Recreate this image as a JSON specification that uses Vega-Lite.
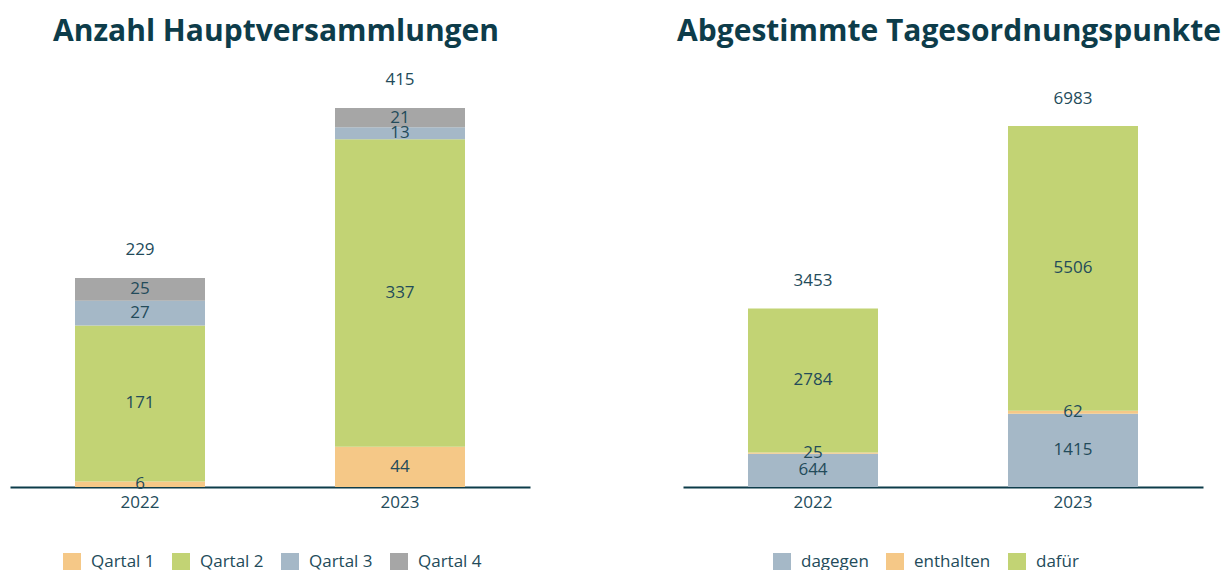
{
  "$schema": "https://vega.github.io/schema/vega-lite/v6.json",
  "background": "white",
  "padding": {"left": 10, "top": 17, "right": 0, "bottom": 0},
  "config": {
    "font": "Open Sans",
    "view": {"stroke": null},
    "concat": {"spacing": 147},
    "title": {"fontSize": 30, "fontWeight": "bold", "color": "#0d3c4a", "anchor": "middle", "offset": 14, "dx": 6, "font": "Open Sans"},
    "axis": {"domainColor": "#0d3c4a", "domainWidth": 2, "ticks": false, "labelFontSize": 17, "labelColor": "#234b5a", "labelPadding": 7, "title": null, "grid": false, "labelAngle": 0},
    "legend": {"orient": "none", "direction": "horizontal", "title": null, "symbolType": "square", "symbolSize": 324, "symbolStrokeWidth": 0, "labelFontSize": 17, "labelColor": "#234b5a", "labelOffset": 10, "columnPadding": 17}
  },
  "resolve": {"scale": {"color": "independent", "y": "independent"}, "legend": {"color": "independent"}},
  "datasets": {
    "hv": [
      {"year": "2022", "q": "Qartal 1", "v": 6, "k": 1},
      {"year": "2022", "q": "Qartal 2", "v": 171, "k": 2},
      {"year": "2022", "q": "Qartal 3", "v": 27, "k": 3},
      {"year": "2022", "q": "Qartal 4", "v": 25, "k": 4},
      {"year": "2023", "q": "Qartal 1", "v": 44, "k": 1},
      {"year": "2023", "q": "Qartal 2", "v": 337, "k": 2},
      {"year": "2023", "q": "Qartal 3", "v": 13, "k": 3},
      {"year": "2023", "q": "Qartal 4", "v": 21, "k": 4}
    ],
    "top": [
      {"year": "2022", "c": "dagegen", "v": 644, "k": 1},
      {"year": "2022", "c": "enthalten", "v": 25, "k": 2},
      {"year": "2022", "c": "dafür", "v": 2784, "k": 3},
      {"year": "2023", "c": "dagegen", "v": 1415, "k": 1},
      {"year": "2023", "c": "enthalten", "v": 62, "k": 2},
      {"year": "2023", "c": "dafür", "v": 5506, "k": 3}
    ]
  },
  "hconcat": [
    {
      "width": 520,
      "height": 426,
      "title": {"text": "Anzahl Hauptversammlungen"},
      "data": {"name": "hv"},
      "transform": [
        {"stack": "v", "groupby": ["year"], "sort": [{"field": "k", "order": "ascending"}], "as": ["v0", "v1"]},
        {"calculate": "(datum.v0 + datum.v1) / 2", "as": "mid"}
      ],
      "encoding": {
        "x": {"field": "year", "type": "nominal", "scale": {"paddingInner": 0.5, "paddingOuter": 0.25}, "axis": {}}
      },
      "layer": [
        {
          "mark": {"type": "bar"},
          "encoding": {
            "y": {"field": "v0", "type": "quantitative", "scale": {"domain": [0, 466.6], "nice": false, "zero": true}, "axis": null},
            "y2": {"field": "v1"},
            "color": {"field": "q", "type": "nominal", "scale": {"domain": ["Qartal 1", "Qartal 2", "Qartal 3", "Qartal 4"], "range": ["#f5c887", "#c2d374", "#a5b8c7", "#a6a6a6"]}, "legend": {"legendX": 53, "legendY": 492}}
          }
        },
        {
          "mark": {"type": "text", "fontSize": 17, "color": "#234b5a", "baseline": "middle"},
          "encoding": {
            "y": {"field": "mid", "type": "quantitative"},
            "text": {"field": "v", "type": "quantitative"}
          }
        },
        {
          "mark": {"type": "text", "fontSize": 17, "color": "#234b5a", "baseline": "middle", "dy": -28},
          "encoding": {
            "y": {"aggregate": "sum", "field": "v", "type": "quantitative"},
            "text": {"aggregate": "sum", "field": "v", "type": "quantitative"}
          }
        }
      ]
    },
    {
      "width": 520,
      "height": 426,
      "title": {"text": "Abgestimmte Tagesordnungspunkte"},
      "data": {"name": "top"},
      "transform": [
        {"stack": "v", "groupby": ["year"], "sort": [{"field": "k", "order": "ascending"}], "as": ["v0", "v1"]},
        {"calculate": "(datum.v0 + datum.v1) / 2", "as": "mid"}
      ],
      "encoding": {
        "x": {"field": "year", "type": "nominal", "scale": {"paddingInner": 0.5, "paddingOuter": 0.25}, "axis": {}}
      },
      "layer": [
        {
          "mark": {"type": "bar"},
          "encoding": {
            "y": {"field": "v0", "type": "quantitative", "scale": {"domain": [0, 8240], "nice": false, "zero": true}, "axis": null},
            "y2": {"field": "v1"},
            "color": {"field": "c", "type": "nominal", "scale": {"domain": ["dagegen", "enthalten", "dafür"], "range": ["#a5b8c7", "#f5c887", "#c2d374"]}, "legend": {"legendX": 90, "legendY": 492}}
          }
        },
        {
          "mark": {"type": "text", "fontSize": 17, "color": "#234b5a", "baseline": "middle"},
          "encoding": {
            "y": {"field": "mid", "type": "quantitative"},
            "text": {"field": "v", "type": "quantitative"}
          }
        },
        {
          "mark": {"type": "text", "fontSize": 17, "color": "#234b5a", "baseline": "middle", "dy": -27},
          "encoding": {
            "y": {"aggregate": "sum", "field": "v", "type": "quantitative"},
            "text": {"aggregate": "sum", "field": "v", "type": "quantitative"}
          }
        }
      ]
    }
  ]
}
